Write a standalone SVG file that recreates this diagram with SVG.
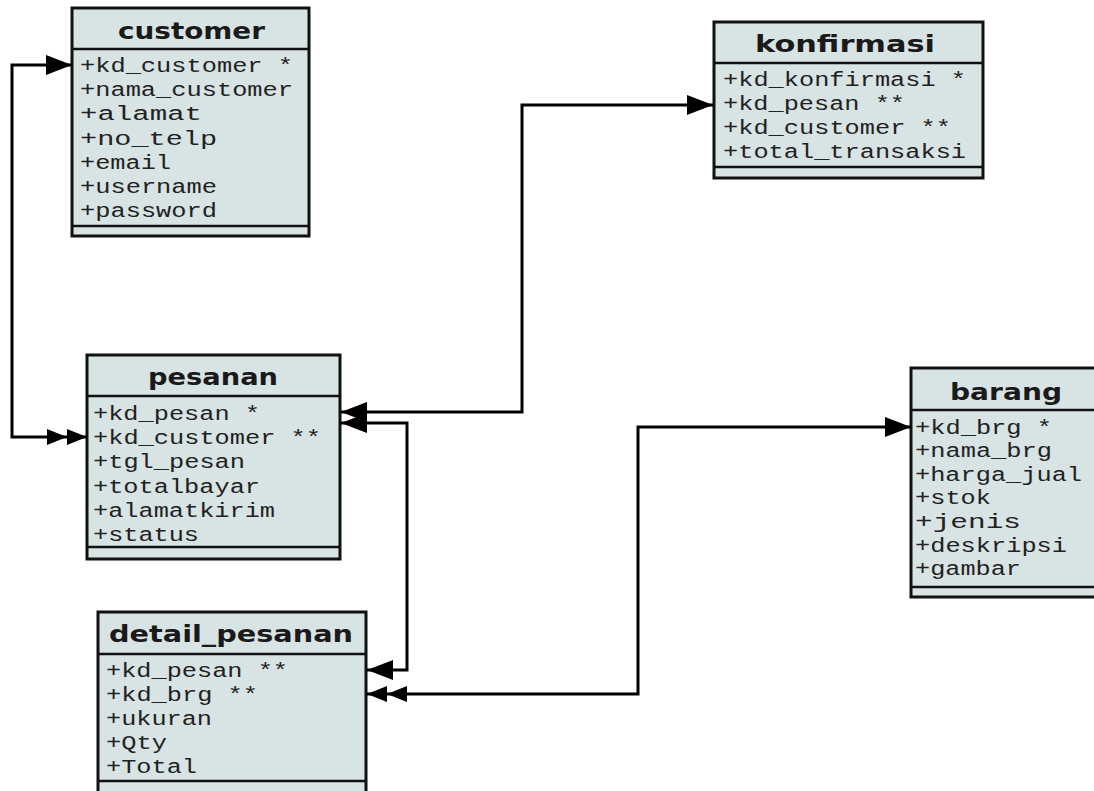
<svg xmlns="http://www.w3.org/2000/svg" width="1094" height="791" viewBox="0 0 1094 791">
<style>
.box{fill:#d8e3e3;stroke:#111;stroke-width:3}
.sep{stroke:#111;stroke-width:2.5}
.hd{font-family:"DejaVu Sans",Verdana,sans-serif;font-weight:bold;font-size:23px;fill:#1a1a1a}
.row{font-family:"Liberation Mono","Courier New",monospace;font-size:20px;fill:#222}
.conn{fill:none;stroke:#000;stroke-width:3}
</style>
<defs>
<marker id="one" viewBox="0 0 26 20" refX="26" refY="10" markerWidth="26" markerHeight="20" markerUnits="userSpaceOnUse" orient="auto-start-reverse"><path d="M0,0 L26,10 L0,20 z" fill="#000"/></marker>
<marker id="two" viewBox="0 0 40 16" refX="40" refY="8" markerWidth="40" markerHeight="16" markerUnits="userSpaceOnUse" orient="auto-start-reverse"><path d="M0,0 L20,8 L0,16 z M20,0 L40,8 L20,16 z" fill="#000"/></marker>
</defs>
<rect width="1094" height="791" fill="#fff"/>
<g id="customer">
<rect class="box" x="72" y="8" width="237" height="228"/>
<line class="sep" x1="72" y1="49" x2="309" y2="49"/>
<line class="sep" x1="72" y1="226" x2="309" y2="226"/>
<text class="hd" x="118" y="39" textLength="147" lengthAdjust="spacingAndGlyphs">customer</text>
<text class="row" x="80" y="72" textLength="213" lengthAdjust="spacingAndGlyphs">+kd_customer *</text>
<text class="row" x="80" y="96" textLength="213" lengthAdjust="spacingAndGlyphs">+nama_customer</text>
<text class="row" x="80" y="120" textLength="122" lengthAdjust="spacingAndGlyphs">+alamat</text>
<text class="row" x="80" y="145" textLength="137" lengthAdjust="spacingAndGlyphs">+no_telp</text>
<text class="row" x="80" y="169" textLength="91" lengthAdjust="spacingAndGlyphs">+email</text>
<text class="row" x="80" y="193" textLength="137" lengthAdjust="spacingAndGlyphs">+username</text>
<text class="row" x="80" y="217" textLength="137" lengthAdjust="spacingAndGlyphs">+password</text>
</g>
<g id="konfirmasi">
<rect class="box" x="714" y="22" width="269" height="156"/>
<line class="sep" x1="714" y1="63" x2="983" y2="63"/>
<line class="sep" x1="714" y1="167" x2="983" y2="167"/>
<text class="hd" x="755" y="52" textLength="180" lengthAdjust="spacingAndGlyphs">konfirmasi</text>
<text class="row" x="723" y="86" textLength="243" lengthAdjust="spacingAndGlyphs">+kd_konfirmasi *</text>
<text class="row" x="723" y="110" textLength="182" lengthAdjust="spacingAndGlyphs">+kd_pesan **</text>
<text class="row" x="723" y="134" textLength="228" lengthAdjust="spacingAndGlyphs">+kd_customer **</text>
<text class="row" x="723" y="158" textLength="243" lengthAdjust="spacingAndGlyphs">+total_transaksi</text>
</g>
<g id="pesanan">
<rect class="box" x="87" y="355" width="253" height="204"/>
<line class="sep" x1="87" y1="396" x2="340" y2="396"/>
<line class="sep" x1="87" y1="547" x2="340" y2="547"/>
<text class="hd" x="148" y="385" textLength="130" lengthAdjust="spacingAndGlyphs">pesanan</text>
<text class="row" x="93" y="420" textLength="167" lengthAdjust="spacingAndGlyphs">+kd_pesan *</text>
<text class="row" x="93" y="444" textLength="228" lengthAdjust="spacingAndGlyphs">+kd_customer **</text>
<text class="row" x="93" y="468" textLength="152" lengthAdjust="spacingAndGlyphs">+tgl_pesan</text>
<text class="row" x="93" y="493" textLength="167" lengthAdjust="spacingAndGlyphs">+totalbayar</text>
<text class="row" x="93" y="517" textLength="182" lengthAdjust="spacingAndGlyphs">+alamatkirim</text>
<text class="row" x="93" y="541" textLength="106" lengthAdjust="spacingAndGlyphs">+status</text>
</g>
<g id="barang">
<rect class="box" x="911" y="368" width="200" height="229"/>
<line class="sep" x1="911" y1="410" x2="1111" y2="410"/>
<line class="sep" x1="911" y1="587" x2="1111" y2="587"/>
<text class="hd" x="950" y="400" textLength="112" lengthAdjust="spacingAndGlyphs">barang</text>
<text class="row" x="915" y="434" textLength="137" lengthAdjust="spacingAndGlyphs">+kd_brg *</text>
<text class="row" x="915" y="457" textLength="137" lengthAdjust="spacingAndGlyphs">+nama_brg</text>
<text class="row" x="915" y="481" textLength="167" lengthAdjust="spacingAndGlyphs">+harga_jual</text>
<text class="row" x="915" y="504" textLength="76" lengthAdjust="spacingAndGlyphs">+stok</text>
<text class="row" x="915" y="528" textLength="106" lengthAdjust="spacingAndGlyphs">+jenis</text>
<text class="row" x="915" y="552" textLength="152" lengthAdjust="spacingAndGlyphs">+deskripsi</text>
<text class="row" x="915" y="575" textLength="106" lengthAdjust="spacingAndGlyphs">+gambar</text>
</g>
<g id="detail_pesanan">
<rect class="box" x="98" y="612" width="268" height="190"/>
<line class="sep" x1="98" y1="654" x2="366" y2="654"/>
<line class="sep" x1="98" y1="781" x2="366" y2="781"/>
<text class="hd" x="109" y="642" textLength="244" lengthAdjust="spacingAndGlyphs">detail_pesanan</text>
<text class="row" x="106" y="677" textLength="182" lengthAdjust="spacingAndGlyphs">+kd_pesan **</text>
<text class="row" x="106" y="701" textLength="152" lengthAdjust="spacingAndGlyphs">+kd_brg **</text>
<text class="row" x="106" y="725" textLength="106" lengthAdjust="spacingAndGlyphs">+ukuran</text>
<text class="row" x="106" y="749" textLength="61" lengthAdjust="spacingAndGlyphs">+Qty</text>
<text class="row" x="106" y="773" textLength="91" lengthAdjust="spacingAndGlyphs">+Total</text>
</g>
<g id="connectors">
<path class="conn" d="M72,65 H12 V437 H87" marker-start="url(#one)" marker-end="url(#two)"/>
<path class="conn" d="M341,412 H522 V105 H713" marker-start="url(#one)" marker-end="url(#one)"/>
<path class="conn" d="M341,423 H407 V670 H367" marker-start="url(#one)" marker-end="url(#one)"/>
<path class="conn" d="M911,427 H638 V694 H367" marker-start="url(#one)" marker-end="url(#two)"/>
</g>
</svg>
